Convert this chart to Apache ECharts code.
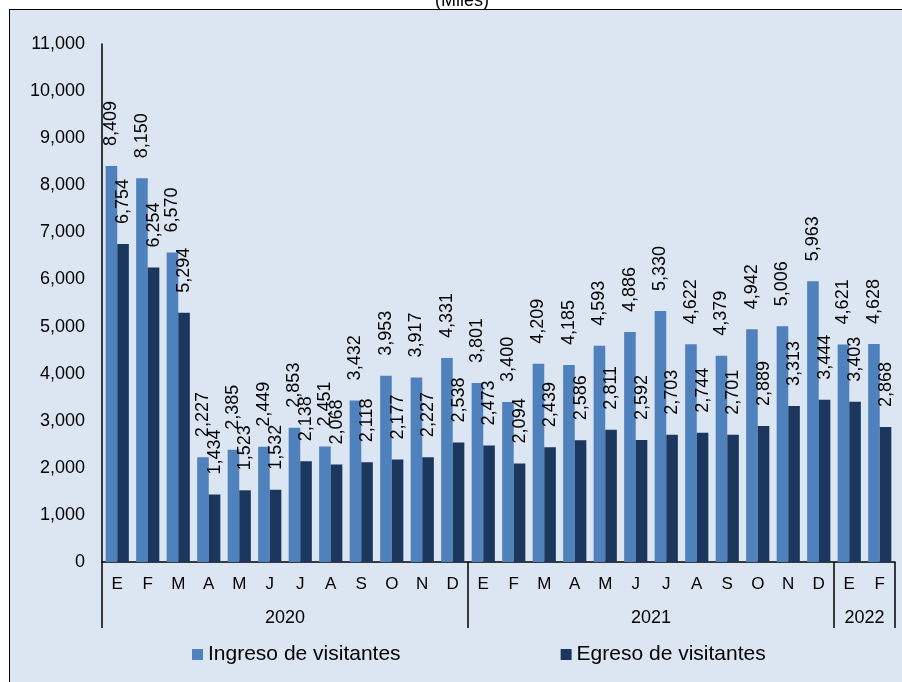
<!DOCTYPE html>
<html>
<head>
<meta charset="utf-8">
<script src="https://cdn.jsdelivr.net/npm/echarts@6/dist/echarts.min.js"></script>
<style>
    html, body { margin: 0; padding: 0; background: #ffffff; }
    .panel {
        position: absolute; left: 9px; top: 9px; right: 0; bottom: 0;
        background: #dce6f2;
        border-top: 1.5px solid #000;
        border-left: 1.5px solid #000;
    }
    #chart { position: absolute; left: 0; top: 0; width: 902px; height: 682px; }
</style>
</head>
<body>
<div class="panel"></div>
<div id="chart"></div>
<script>
// meses (E..D) de 2020, 2021 y ene-feb 2022
const months = ['E','F','M','A','M','J','J','A','S','O','N','D',
                'E','F','M','A','M','J','J','A','S','O','N','D',
                'E','F'];
const yearLabels = { 6: '2020', 18: '2021', 25: '2022' };
const yearStarts = [0, 12, 24];

const ingreso = [8409, 8150, 6570, 2227, 2385, 2449, 2853, 2451, 3432, 3953, 3917, 4331,
                 3801, 3400, 4209, 4185, 4593, 4886, 5330, 4622, 4379, 4942, 5006, 5963,
                 4621, 4628];
const egreso = [6754, 6254, 5294, 1434, 1523, 1532, 2138, 2068, 2118, 2177, 2227, 2538,
                2473, 2094, 2439, 2586, 2811, 2592, 2703, 2744, 2701, 2889, 3313, 3444,
                3403, 2868];

const font = '"Liberation Sans", Arial, sans-serif';
const fmt = v => Number(v).toLocaleString('en-US');

const barLabel = {
    show: true,
    position: 'top',
    rotate: 90,
    distance: 20,
    align: 'left',
    verticalAlign: 'middle',
    color: '#000',
    fontSize: 18,
    fontFamily: font,
    formatter: p => fmt(p.value)
};

const chart = echarts.init(document.getElementById('chart'), null, { renderer: 'canvas' });
chart.setOption({
    backgroundColor: 'transparent',
    animation: false,
    title: {
        text: '(Miles)',
        left: 430,
        top: -13,
        textStyle: { fontSize: 18, fontWeight: 'normal', color: '#000', fontFamily: font }
    },
    legend: {
        left: 187,
        top: 639,
        itemWidth: 11,
        itemHeight: 11,
        itemGap: 160,
        icon: 'rect',
        textStyle: { fontSize: 21, color: '#000', fontFamily: font }
    },
    grid: { left: 102, right: 7, top: 44, bottom: 120 },
    xAxis: [
        {
            type: 'category',
            data: months,
            axisLine: { lineStyle: { color: '#000', width: 1.5 } },
            axisTick: {
                show: true,
                interval: i => yearStarts.indexOf(i) >= 0,
                length: 66,
                lineStyle: { color: '#000', width: 1.5 }
            },
            axisLabel: { interval: 0, margin: 14, fontSize: 17, color: '#000', fontFamily: font }
        },
        {
            // fila de años
            type: 'value',
            min: 0,
            max: 26,
            interval: 1,
            position: 'bottom',
            axisLine: { show: false },
            axisTick: { show: false },
            splitLine: { show: false },
            axisLabel: {
                margin: 47,
                fontSize: 18,
                color: '#000',
                fontFamily: font,
                formatter: v => yearLabels[v] || ''
            }
        }
    ],
    yAxis: {
        type: 'value',
        min: 0,
        max: 11000,
        interval: 1000,
        axisLine: { show: true, lineStyle: { color: '#000', width: 1.5 } },
        axisTick: { show: false },
        splitLine: { show: false },
        axisLabel: { margin: 17, fontSize: 18, color: '#000', fontFamily: font, formatter: fmt }
    },
    series: [
        {
            name: 'Ingreso de visitantes',
            type: 'bar',
            data: ingreso,
            barGap: '0%',
            barCategoryGap: '24%',
            itemStyle: { color: '#4f81bd' },
            label: barLabel
        },
        {
            name: 'Egreso de visitantes',
            type: 'bar',
            data: egreso,
            itemStyle: { color: '#1b375e' },
            label: barLabel
        }
    ]
});
</script>
</body>
</html>
